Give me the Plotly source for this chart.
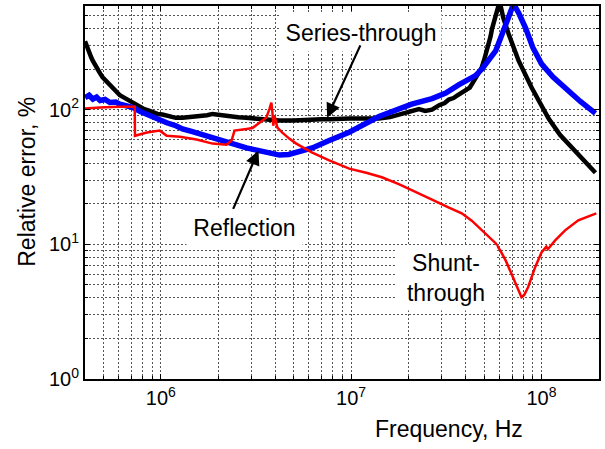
import plotly.graph_objects as go

# Series-through measurement (black)
series_f = [4.0e5, 4.05e5, 4.1e5, 4.18e5, 4.25e5, 4.32e5, 4.4e5, 4.5e5, 4.6e5, 4.7e5,
            4.8e5, 4.95e5, 5.1e5, 5.25e5, 5.4e5, 5.6e5, 5.8e5, 6.1e5, 6.35e5, 6.6e5,
            6.85e5, 7.1e5, 7.45e5, 7.8e5, 8.2e5, 8.75e5, 9.2e5, 9.6e5, 1.02e6, 1.075e6,
            1.13e6, 1.2e6, 1.3e6, 1.45e6, 1.6e6, 1.75e6, 1.87e6, 2.05e6, 2.3e6, 2.55e6,
            2.82e6, 3.1e6, 3.42e6, 3.8e6, 4.2e6, 5.0e6, 5.6e6, 6.25e6, 7.0e6, 7.7e6,
            8.7e6, 9.8e6, 1.2e7, 1.4e7, 1.6e7, 1.78e7, 2.0e7, 2.15e7, 2.27e7, 2.45e7,
            2.66e7, 2.9e7, 3.1e7, 3.26e7, 3.45e7, 3.6e7, 3.8e7, 4.0e7, 4.2e7, 4.35e7,
            4.5e7, 4.68e7, 4.85e7, 5.0e7, 5.15e7, 5.28e7, 5.4e7, 5.5e7, 5.62e7, 5.74e7,
            5.85e7, 5.96e7, 6.1e7, 6.3e7, 6.72e7, 7.58e7, 8.87e7, 1.09e8, 1.25e8, 1.44e8,
            1.65e8, 1.92e8]
series_err = [322, 305, 288, 270, 255, 243, 230, 216, 205, 196,
              186, 174, 166, 158, 151, 143, 137, 128, 124, 120,
              117, 113, 108, 105, 101, 98, 95, 93, 92, 90,
              88, 87, 87, 88, 89, 91, 93, 91, 90, 88,
              87, 86, 86, 84, 83, 83, 84, 84, 85, 85,
              86, 86, 86, 86, 88, 92, 97, 99, 101, 98,
              100, 108, 112, 119, 122, 127, 133, 140, 146, 158,
              170, 188, 205, 235, 270, 308, 350, 400, 450, 514,
              560, 600, 590, 480, 365, 231, 146, 86, 65, 52,
              42, 34]

# Reflection measurement (blue)
refl_f = [4.0e5, 4.2e5, 4.4e5, 4.6e5, 4.8e5, 5.1e5, 5.4e5, 5.8e5, 6.1e5, 6.6e5,
          7.1e5, 7.8e5, 8.75e5, 9.6e5, 1.075e6, 1.2e6, 1.3e6, 1.45e6, 1.6e6, 1.87e6,
          2.3e6, 2.82e6, 3.42e6, 4.2e6, 4.7e6, 5.15e6, 6.25e6, 7.67e6, 9.77e6, 1.4e7,
          2.08e7, 2.66e7, 3.14e7, 3.67e7, 4.5e7, 4.87e7, 5.3e7, 5.74e7, 6.1e7, 6.49e7,
          6.85e7, 7.13e7, 7.6e7, 8.24e7, 9.0e7, 1.0e8, 1.15e8, 1.34e8, 1.6e8, 1.92e8]
refl_err = [123, 128, 120, 124, 117, 119, 113, 114, 110, 108,
            104, 97, 90, 85, 80, 76, 72, 69, 66, 62,
            57, 52, 49, 46, 46.5, 48, 52, 59, 68, 89,
            110, 121, 133, 153, 179, 201, 235, 273, 340, 434,
            540, 610, 520, 405, 290, 219, 175, 144, 115, 94]

# Shunt-through measurement (red)
shunt_f = [4.0e5, 4.8e5, 6.0e5, 7.3e5, 7.32e5, 8.45e5, 9.88e5, 1.075e6, 1.26e6, 1.54e6,
           1.87e6, 2.215e6, 2.355e6, 2.44e6, 2.82e6, 3.03e6, 3.3e6, 3.59e6, 3.72e6, 3.81e6,
           3.86e6, 3.9e6, 3.96e6, 4.1e6, 4.35e6, 4.73e6, 5.15e6, 6.25e6, 7.67e6, 9.77e6,
           1.2e7, 1.45e7, 1.78e7, 2.2e7, 2.66e7, 3.2e7, 3.81e7, 4.3e7, 4.68e7, 5.2e7,
           5.74e7, 6.1e7, 6.48e7, 6.9e7, 7.3e7, 7.6e7, 7.85e7, 8.1e7, 8.5e7, 9.27e7,
           1.0e8, 1.06e8, 1.08e8, 1.18e8, 1.33e8, 1.56e8, 1.94e8]
shunt_err = [102, 104, 105, 105, 64, 67.6, 69.9, 64, 63, 60,
             56, 55, 59, 70, 72, 73, 80, 87.5, 101, 113,
             95, 76, 90, 73.5, 67.6, 61, 56, 48, 42, 36.5,
             34, 31.5, 28, 24.5, 21.5, 19, 17, 15, 13.4, 11.8,
             10.2, 8.9, 7.6, 6.2, 5.1, 4.4, 4.05, 4.2, 4.8, 6.8,
             8.7, 9.6, 9.2, 10.7, 12.7, 15.1, 17.0]

x_tickvals = [1e6, 1e7, 1e8]
x_ticktext = ["10<sup>6</sup>", "10<sup>7</sup>", "10<sup>8</sup>"]
y_tickvals = [1, 10, 100]
y_ticktext = ["10<sup>0</sup>", "10<sup>1</sup>", "10<sup>2</sup>"]

x_range = [5.602, 8.302]   # log10(Hz)
y_range = [0.0, 2.77]      # log10(%)

FONT = "Arial, Liberation Sans, sans-serif"

fig = go.Figure()
fig.add_trace(go.Scatter(x=series_f, y=series_err, mode="lines",
                         line=dict(color="black", width=4.5), name="Series-through"))
fig.add_trace(go.Scatter(x=refl_f, y=refl_err, mode="lines",
                         line=dict(color="#0000ff", width=5.5), name="Reflection"))
fig.add_trace(go.Scatter(x=shunt_f, y=shunt_err, mode="lines",
                         line=dict(color="#ff0000", width=2.5), name="Shunt-through"))

grid = dict(showgrid=True, gridcolor="#555555", griddash="2px,2px", gridwidth=1)
axis_common = dict(
    type="log",
    showline=True, linecolor="black", linewidth=2, mirror="ticks",
    ticks="inside", ticklen=5, tickcolor="black",
    tickfont=dict(family=FONT, size=20, color="black"),
    zeroline=False,
    minor=dict(dtick="D1", ticks="inside", ticklen=3, tickcolor="black", **grid),
    **grid,
)

fig.update_xaxes(range=x_range, tickvals=x_tickvals, ticktext=x_ticktext, **axis_common)
fig.update_yaxes(range=y_range, tickvals=y_tickvals, ticktext=y_ticktext, **axis_common)

ann_font = dict(family=FONT, size=23, color="black")
label_box = dict(showarrow=False, font=ann_font, bgcolor="white", borderpad=0,
                 xref="paper", yref="paper", xanchor="center", yanchor="middle")

# Curve labels on white boxes
fig.add_annotation(x=0.537, y=0.929, text="Series-through",
                   width=160, height=37, **label_box)
fig.add_annotation(x=0.311, y=0.404, text="Reflection",
                   width=115, height=40, **label_box)
fig.add_annotation(x=0.702, y=0.272, text="Shunt-<br>through",
                   width=100, height=64, **label_box)

# Pointer arrows
fig.add_annotation(x=6.874, y=1.941, ax=7.052, ay=2.489, axref="x", ayref="y",
                   text="", showarrow=True, arrowhead=2, arrowsize=1.3,
                   arrowwidth=2.2, arrowcolor="black")
fig.add_annotation(x=6.513, y=1.696, ax=6.377, ay=1.252, axref="x", ayref="y",
                   text="", showarrow=True, arrowhead=2, arrowsize=1.3,
                   arrowwidth=2.2, arrowcolor="black")

# Axis titles
fig.add_annotation(xref="paper", yref="paper", x=0.709, y=-0.135,
                   text="Frequency, Hz", showarrow=False, font=ann_font,
                   xanchor="center", yanchor="middle")
fig.add_annotation(xref="paper", yref="paper", x=-0.112, y=0.53,
                   text="Relative error, %", showarrow=False, font=ann_font,
                   textangle=-90, xanchor="center", yanchor="middle")

fig.update_layout(
    width=605, height=449,
    margin=dict(l=85, r=4, t=5, b=70),
    paper_bgcolor="white", plot_bgcolor="white",
    showlegend=False,
    font=dict(family=FONT, color="black"),
)

fig.write_html("out.html")
